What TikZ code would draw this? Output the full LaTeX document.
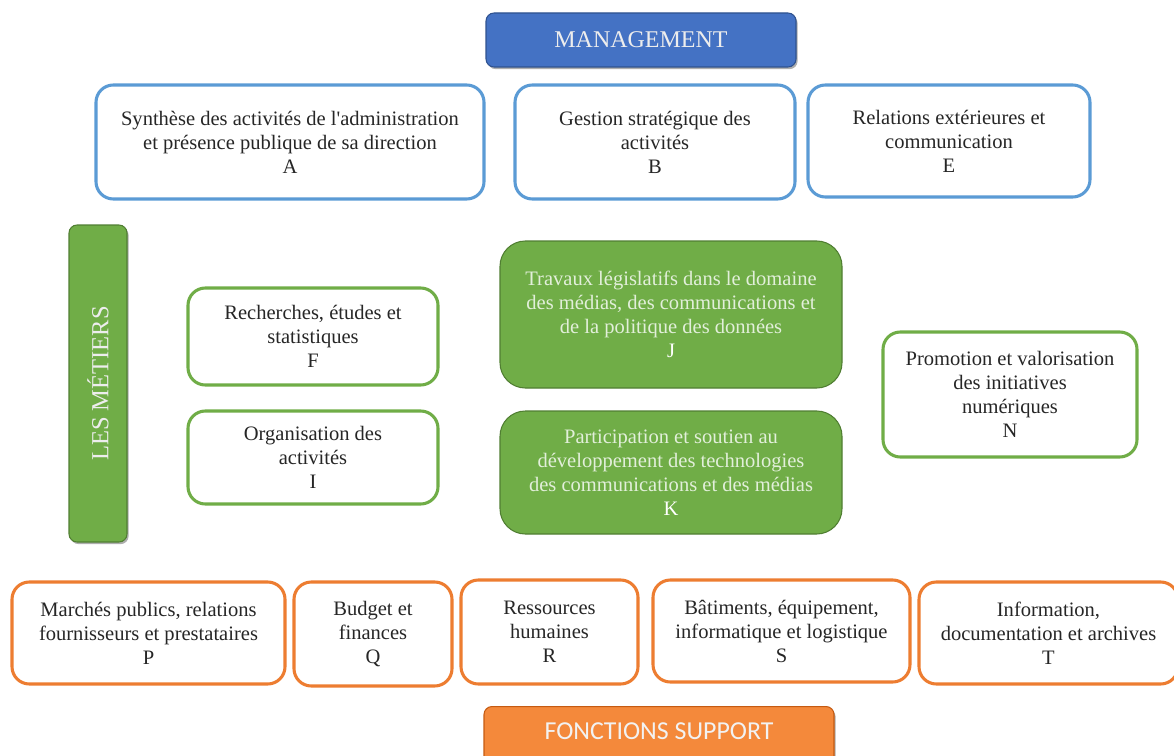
\documentclass[tikz,border=0pt]{standalone}
\usepackage{fontspec}
\setmainfont{Liberation Serif}
\newfontfamily\carlito{Carlito}
\usetikzlibrary{shadows}
\definecolor{bluebd}{HTML}{5B9BD5}
\definecolor{greenbd}{HTML}{70AD47}
\definecolor{orangebd}{HTML}{ED7D31}
\definecolor{mgfill}{HTML}{4472C4}
\definecolor{mgbd}{HTML}{2F528F}
\definecolor{gfill}{HTML}{70AD47}
\definecolor{gbd}{HTML}{507E32}
\definecolor{ofill}{HTML}{F4893B}
\definecolor{obd}{HTML}{C55A11}
\definecolor{gtext}{HTML}{E2EFDA}
\definecolor{txt}{HTML}{262626}
\tikzset{
  sz/.style 2 args={minimum width=#1*0.75pt, minimum height=#2*0.75pt},
  boxtext/.style={align=center, font=\fontsize{15.4}{18}\selectfont, text=txt, inner sep=0pt},
  bluebox/.style={boxtext, draw=bluebd, line width=2.3pt, rounded corners=13pt, fill=white},
  greenbox/.style={boxtext, draw=greenbd, line width=2.3pt, rounded corners=13pt, fill=white},
  orangebox/.style={boxtext, draw=orangebd, line width=2.3pt, rounded corners=13pt, fill=white},
  greenfill/.style={boxtext, text=gtext, fill=gfill, draw=gbd, line width=0.8pt, rounded corners=19pt},
  header/.style={align=center, inner sep=0pt, rounded corners=6pt, line width=0.8pt,
    drop shadow={shadow xshift=1.2pt, shadow yshift=-1.6pt, opacity=0.45, fill=black!70}},
}
\begin{document}
\begin{tikzpicture}[x=0.75pt,y=-0.75pt]
\useasboundingbox (0,0) rectangle (1174,756);
\clip (0,0) rectangle (1174,756);
% Management
\node[header, sz={310}{54}, fill=mgfill, draw=mgbd, text=white!93!black,
  font=\fontsize{18}{20}\selectfont] (MG) at (641,40) {MANAGEMENT};
\node[bluebox, sz={388}{114}] (A) at (290,142) {Synthèse des activités de l\textquotesingle administration\\et présence publique de sa direction\\A};
\node[bluebox, sz={280}{114}] (B) at (655,142) {Gestion stratégique des\\activités\\B};
\node[bluebox, sz={282}{112}] (E) at (949,141) {Relations extérieures et\\communication\\E};
% Les metiers
\node[header, sz={58}{317}, fill=gfill, draw=gbd] (LM) at (98,383.5) {};
\node[rotate=90, text=white!93!black, font=\fontsize{18.4}{20}\selectfont, inner sep=0pt] (LMt) at (LM.center) {LES MÉTIERS};
\node[greenbox, sz={250}{97}] (F) at (313,336.5) {Recherches, études et\\statistiques\\F};
\node[greenbox, sz={250}{93}] (I) at (313,457.5) {Organisation des\\activités\\I};
\node[greenfill, sz={342}{147}] (J) at (671,314.5) {Travaux législatifs dans le domaine\\des médias, des communications et\\de la politique des données\\\textcolor{white}{J}};
\node[greenfill, sz={342}{123}] (K) at (671,472.5) {Participation et soutien au\\développement des technologies\\des communications et des médias\\\textcolor{white}{K}};
\node[greenbox, sz={254}{125}] (N) at (1010,394.5) {Promotion et valorisation\\des initiatives\\numériques\\N};
% Support
\node[orangebox, sz={273}{102}] (P) at (148.5,633) {Marchés publics, relations\\fournisseurs et prestataires\\P};
\node[orangebox, sz={158}{104}] (Q) at (373,634) {Budget et\\finances\\Q};
\node[orangebox, sz={177}{104}] (R) at (549.5,632) {Ressources\\humaines\\R};
\node[orangebox, sz={257}{102}] (S) at (781.5,631) {Bâtiments, équipement,\\informatique et logistique\\S};
\node[orangebox, sz={259}{102}] (T) at (1048.5,633) {Information,\\documentation et archives\\T};
\node[header, sz={350}{64}, fill=ofill, draw=obd, anchor=north] (FS) at (659,706) {};
\node[text=white!95!black, font=\carlito\fontsize{19.4}{21}\selectfont, inner sep=0pt] (FSt) at (659,731) {FONCTIONS SUPPORT};
\end{tikzpicture}
\end{document}
